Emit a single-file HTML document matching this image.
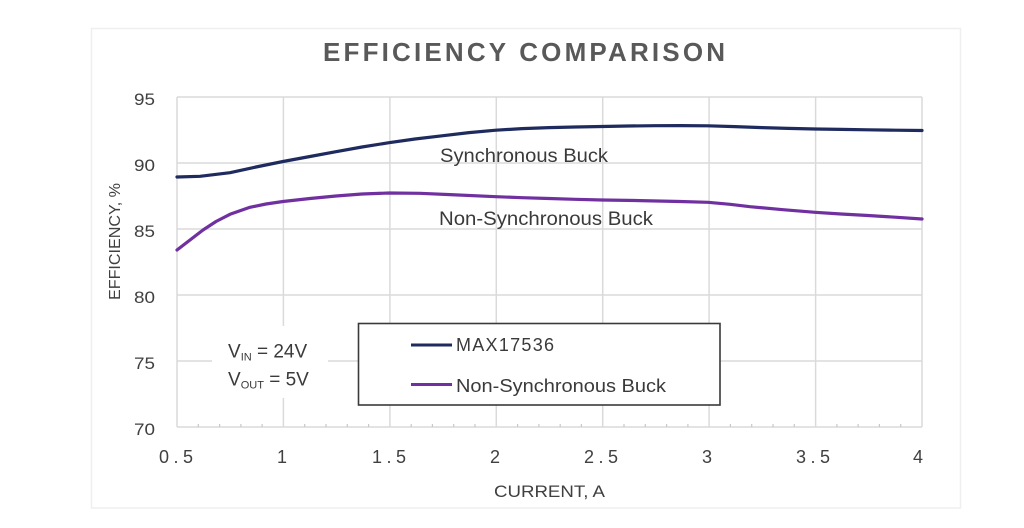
<!DOCTYPE html>
<html><head><meta charset="utf-8"><style>
html,body{margin:0;padding:0;background:#fff;}
svg{display:block;}
text{font-family:"Liberation Sans",Arial,sans-serif;}
</style></head><body>
<svg width="1024" height="528" viewBox="0 0 1024 528" xmlns="http://www.w3.org/2000/svg">
<rect x="0" y="0" width="1024" height="528" fill="#fff"/>
<rect x="91.5" y="28.5" width="869" height="479.5" fill="none" stroke="#efefef" stroke-width="1.5"/>
<text x="323" y="61" font-size="26" font-weight="bold" fill="#595959" textLength="402" lengthAdjust="spacing">EFFICIENCY COMPARISON</text>
<g stroke="#dadada" stroke-width="1.5" fill="none">
<line x1="177" y1="97" x2="922" y2="97"/>
<line x1="177" y1="163" x2="922" y2="163"/>
<line x1="177" y1="229" x2="922" y2="229"/>
<line x1="177" y1="295" x2="922" y2="295"/>
<line x1="177" y1="361" x2="922" y2="361"/>
<line x1="177" y1="427" x2="922" y2="427"/>
<line x1="177" y1="97" x2="177" y2="427"/>
<line x1="283.4" y1="97" x2="283.4" y2="427"/>
<line x1="389.9" y1="97" x2="389.9" y2="427"/>
<line x1="496.3" y1="97" x2="496.3" y2="427"/>
<line x1="602.7" y1="97" x2="602.7" y2="427"/>
<line x1="709.1" y1="97" x2="709.1" y2="427"/>
<line x1="815.6" y1="97" x2="815.6" y2="427"/>
<line x1="922" y1="97" x2="922" y2="427"/>
</g>
<g stroke="#c8c8c8" stroke-width="1.2">
<line x1="198.3" y1="424" x2="198.3" y2="427"/><line x1="219.6" y1="424" x2="219.6" y2="427"/><line x1="240.9" y1="424" x2="240.9" y2="427"/><line x1="262.1" y1="424" x2="262.1" y2="427"/>
<line x1="304.7" y1="424" x2="304.7" y2="427"/><line x1="326" y1="424" x2="326" y2="427"/><line x1="347.3" y1="424" x2="347.3" y2="427"/><line x1="368.6" y1="424" x2="368.6" y2="427"/>
<line x1="411.2" y1="424" x2="411.2" y2="427"/><line x1="432.4" y1="424" x2="432.4" y2="427"/><line x1="453.7" y1="424" x2="453.7" y2="427"/><line x1="475" y1="424" x2="475" y2="427"/>
<line x1="517.6" y1="424" x2="517.6" y2="427"/><line x1="538.9" y1="424" x2="538.9" y2="427"/><line x1="560.2" y1="424" x2="560.2" y2="427"/><line x1="581.4" y1="424" x2="581.4" y2="427"/>
<line x1="624" y1="424" x2="624" y2="427"/><line x1="645.3" y1="424" x2="645.3" y2="427"/><line x1="666.6" y1="424" x2="666.6" y2="427"/><line x1="687.9" y1="424" x2="687.9" y2="427"/>
<line x1="730.4" y1="424" x2="730.4" y2="427"/><line x1="751.7" y1="424" x2="751.7" y2="427"/><line x1="773" y1="424" x2="773" y2="427"/><line x1="794.3" y1="424" x2="794.3" y2="427"/>
<line x1="836.9" y1="424" x2="836.9" y2="427"/><line x1="858.1" y1="424" x2="858.1" y2="427"/><line x1="879.4" y1="424" x2="879.4" y2="427"/><line x1="900.7" y1="424" x2="900.7" y2="427"/>
</g>
<!-- VIN annotation background -->
<rect x="212" y="326" width="116" height="72" fill="#fff"/>
<!-- series -->
<polyline fill="none" stroke="#1f2b5e" stroke-width="3.2" stroke-linejoin="round" stroke-linecap="round"
points="177,177 200,176.3 230,172.7 256,167 283,161.5 310,156.5 336,151.7 362,147 389,142.7 415,139 442,135.8 469,132.6 496,130.2 522,128.6 549,127.6 575,127 602,126.5 628,126 655,125.7 681,125.6 708,125.8 735,126.6 762,127.6 788,128.4 815,129 841,129.4 868,129.8 895,130.2 922,130.5"/>
<polyline fill="none" stroke="#7030a0" stroke-width="3.2" stroke-linejoin="round" stroke-linecap="round"
points="177,250 190,240 203,230 216,221.5 230,214.3 250,207.3 266,204 283,201.5 310,198.5 336,196 362,194 389,193 420,193.3 450,194.6 496,196.7 522,197.7 549,198.5 575,199.3 602,200 640,200.6 680,201.5 708,202.3 730,204.3 750,206.7 783,209.7 815,212.3 841,214 868,215.5 895,217.2 922,219"/>
<!-- y tick labels -->
<g font-size="17" fill="#404040">
<text x="134" y="105" textLength="21" lengthAdjust="spacingAndGlyphs">95</text>
<text x="134" y="171" textLength="21" lengthAdjust="spacingAndGlyphs">90</text>
<text x="134" y="237" textLength="21" lengthAdjust="spacingAndGlyphs">85</text>
<text x="134" y="303" textLength="21" lengthAdjust="spacingAndGlyphs">80</text>
<text x="134" y="369" textLength="21" lengthAdjust="spacingAndGlyphs">75</text>
<text x="134" y="435" textLength="21" lengthAdjust="spacingAndGlyphs">70</text>
</g>
<!-- x tick labels -->
<g font-size="18" fill="#404040" text-anchor="middle">
<text x="176" y="463" textLength="34" lengthAdjust="spacing">0.5</text>
<text x="282" y="463">1</text>
<text x="389" y="463" textLength="34" lengthAdjust="spacing">1.5</text>
<text x="495" y="463">2</text>
<text x="601" y="463" textLength="34" lengthAdjust="spacing">2.5</text>
<text x="707" y="463">3</text>
<text x="813" y="463" textLength="34" lengthAdjust="spacing">3.5</text>
<text x="918" y="463">4</text>
</g>
<text x="494" y="497" font-size="17" fill="#404040" textLength="111" lengthAdjust="spacingAndGlyphs">CURRENT, A</text>
<text transform="translate(120,300) rotate(-90)" x="0" y="0" font-size="15.5" fill="#404040" textLength="117" lengthAdjust="spacingAndGlyphs">EFFICIENCY, %</text>
<!-- curve labels -->
<text x="440" y="162" font-size="19" fill="#3a3a3a" textLength="168" lengthAdjust="spacingAndGlyphs">Synchronous Buck</text>
<text x="439" y="225" font-size="19" fill="#3a3a3a" textLength="214" lengthAdjust="spacingAndGlyphs">Non-Synchronous Buck</text>
<!-- VIN / VOUT -->
<text x="228" y="357.5" font-size="19" fill="#3a3a3a">V<tspan font-size="11" dy="3">IN</tspan><tspan dy="-3"> = 24V</tspan></text>
<text x="228" y="385.5" font-size="19" fill="#3a3a3a">V<tspan font-size="11" dy="3">OUT</tspan><tspan dy="-3"> = 5V</tspan></text>
<!-- legend -->
<rect x="358.5" y="323.5" width="361.5" height="81.5" fill="#fff" stroke="#3a3a3a" stroke-width="1.6"/>
<line x1="411" y1="345" x2="452" y2="345" stroke="#1f2b5e" stroke-width="3"/>
<line x1="411" y1="384.5" x2="452" y2="384.5" stroke="#7030a0" stroke-width="3"/>
<text x="456" y="351" font-size="18" fill="#3a3a3a" textLength="98" lengthAdjust="spacing">MAX17536</text>
<text x="456" y="392" font-size="18" fill="#3a3a3a" textLength="210" lengthAdjust="spacingAndGlyphs">Non-Synchronous Buck</text>
</svg>
</body></html>
